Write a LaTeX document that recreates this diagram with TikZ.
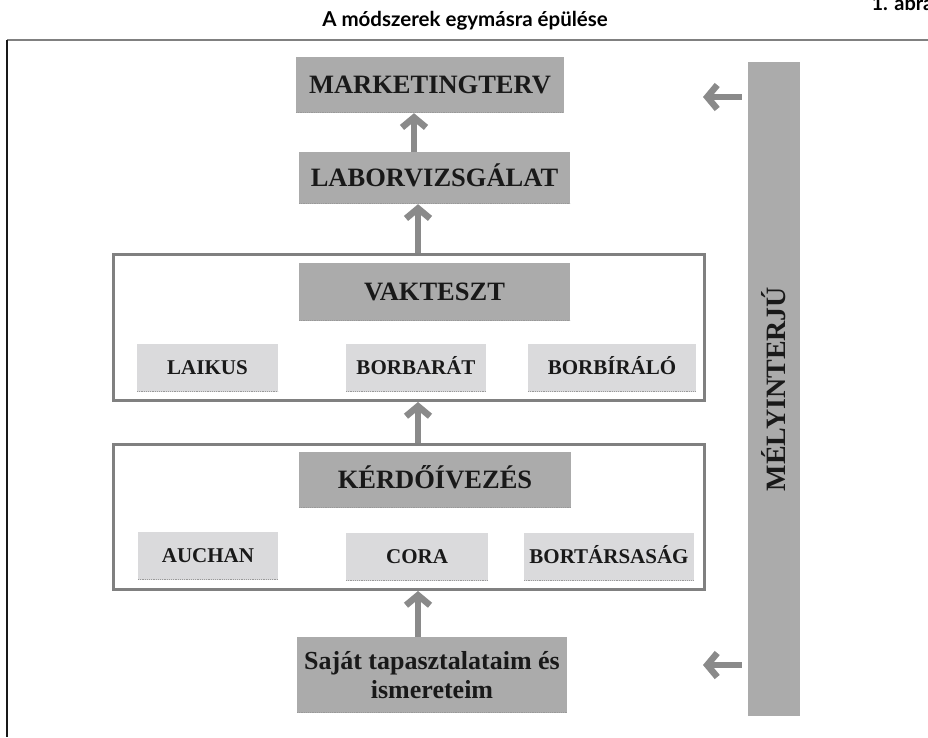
\documentclass[tikz,border=0pt]{standalone}
\usepackage{fontspec}
\setmainfont{Liberation Serif}
\newfontfamily\headfont{Lato}
\usetikzlibrary{arrows.meta}
\definecolor{darkfill}{HTML}{ABABAB}
\definecolor{lightfill}{HTML}{DADADC}
\definecolor{framegray}{HTML}{808080}
\definecolor{arrowgray}{HTML}{8A8A8A}
\tikzset{
  box base/.style={inner sep=0pt, align=center, text=black!90,
    path picture={\draw[densely dotted, line width=1.2pt, black!40]
      ([yshift=.6pt]path picture bounding box.south west) --
      ([yshift=.6pt]path picture bounding box.south east);}},
  dark box/.style={box base, fill=darkfill, text height=18pt, text depth=1pt,
    font=\fontsize{26.5pt}{29pt}\selectfont\bfseries},
  light box/.style={box base, fill=lightfill, minimum height=48,
    text height=14.5pt, text depth=1pt,
    font=\fontsize{21pt}{24pt}\selectfont\bfseries},
  group frame/.style={draw=framegray, line width=3pt, minimum width=591},
  up arrow/.style={draw=arrowgray, line width=6.5pt,
    -{Straight Barb[length=10pt, width=24pt]}}
}
\begin{document}
\begin{tikzpicture}[x=1pt,y=-1pt]
\useasboundingbox (0,0) rectangle (928,737);
\fill[white] (0,0) rectangle (928,737);
% Title and page frame
\node[anchor=base, font=\headfont\bfseries\fontsize{20.5pt}{24pt}\selectfont] (title) at (465,26) {A módszerek egymásra épülése};
\node[anchor=base west, font=\headfont\bfseries\fontsize{20pt}{24pt}\selectfont] (abra) at (868,10) {1. ábra};
\draw[framegray, line width=2pt] (7,40) -- (928,40);
\draw[black!90, line width=1.6pt] (7,40) -- (7,737);
% Top boxes
\node[dark box, minimum width=268, minimum height=56] (mkt) at (430,85) {MARKETINGTERV};
\node[dark box, minimum width=271, minimum height=52] (labor) at (434.5,178) {LABORVIZSGÁLAT};
% Blind test group
\node[group frame, minimum height=146] (vframe) at (409,327.5) {};
\node[dark box, minimum width=271, minimum height=58] (vakteszt) at (434.5,292) {VAKTESZT};
\node[light box, minimum width=141] (laikus) at (207.5,368) {LAIKUS};
\node[light box, minimum width=140] (borbarat) at (416,368) {BORBARÁT};
\node[light box, minimum width=168] (borbiralo) at (612,368) {BORBÍRÁLÓ};
% Questionnaire group
\node[group frame, minimum height=145] (kframe) at (409,517) {};
\node[dark box, minimum width=272, minimum height=56] (kerdo) at (435,480) {KÉRDŐÍVEZÉS};
\node[light box, minimum width=140] (auchan) at (208,556) {AUCHAN};
\node[light box, minimum width=142] (cora) at (417,557) {CORA};
\node[light box, minimum width=170] (bortars) at (609,557) {BORTÁRSASÁG};
% Own experience
\node[dark box, minimum width=270, minimum height=76, text height=, text depth=, font=\fontsize{26pt}{29pt}\selectfont\bfseries] (sajat) at (432,675) {Saját tapasztalataim és\\ismereteim};
% Deep interview bar
\node[fill=darkfill, minimum width=52, minimum height=654, inner sep=0pt] (bar) at (774,389) {};
\node[rotate=90, inner sep=0pt, text=black!90, font=\fontsize{28pt}{31pt}\selectfont\bfseries] (barlabel) at (bar.center) {MÉLYINTERJÚ};
\coordinate (tipa) at (703,97);
\coordinate (tipb) at (703,665);
% Arrows
\draw[up arrow] ([xshift=-16pt]mkt.south |- labor.north) -- ([xshift=-16pt]mkt.south);
\draw[up arrow] ([xshift=9pt]vframe.north) -- ([xshift=9pt]vframe.north |- labor.south);
\draw[up arrow] ([xshift=9pt]kframe.north) -- ([xshift=9pt]kframe.north |- vframe.south);
\draw[up arrow] ([xshift=-14pt]sajat.north) -- ([xshift=-14pt]sajat.north |- kframe.south);
\draw[up arrow] ([xshift=-6pt]bar.west |- tipa) -- (tipa);
\draw[up arrow] ([xshift=-6pt]bar.west |- tipb) -- (tipb);
\end{tikzpicture}
\end{document}
